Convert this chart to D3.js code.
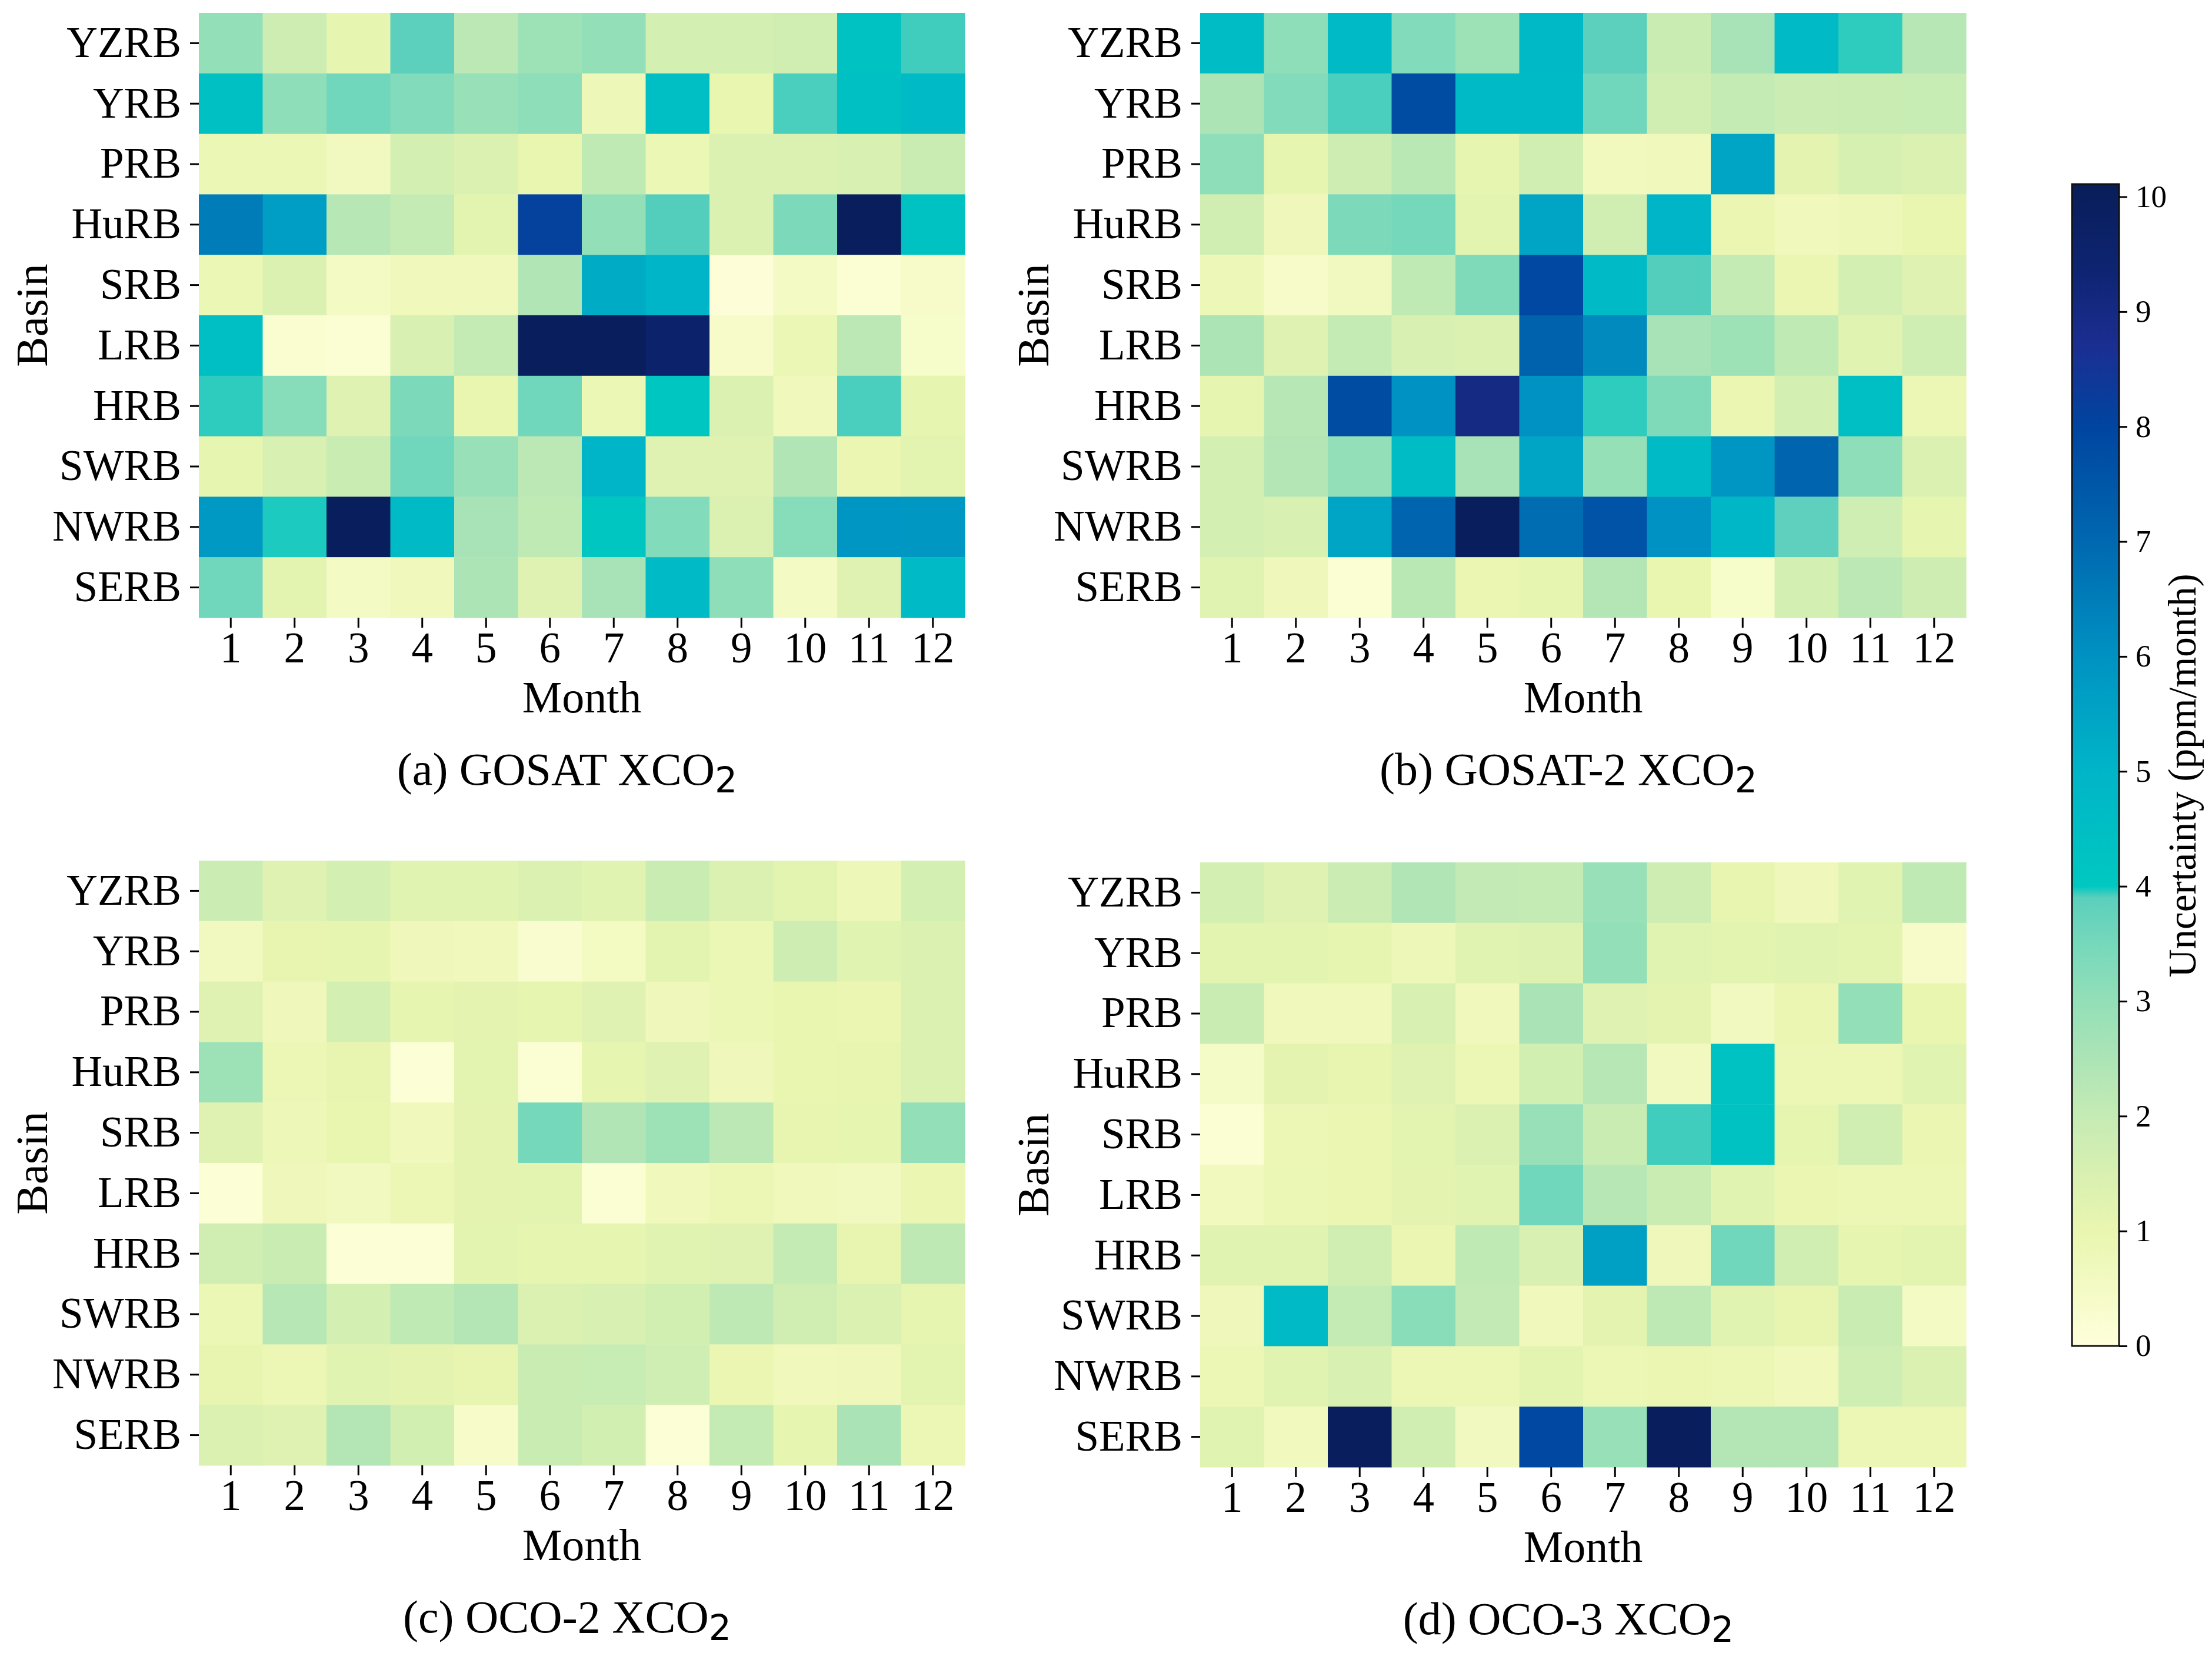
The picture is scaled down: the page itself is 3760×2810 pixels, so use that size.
<!DOCTYPE html>
<html>
<head>
<meta charset="utf-8">
<script src="https://cdn.jsdelivr.net/npm/d3@7"></script>
<style>
  body { margin: 0; background: #fff; }
  svg text { font-family: "Liberation Serif", "Times New Roman", serif; fill: #000; }
</style>
</head>
<body>
<svg id="chart" width="3760" height="2810"></svg>
<script>
// rows top to bottom, columns = months 1..12
const basins = ["YZRB", "YRB", "PRB", "HuRB", "SRB", "LRB", "HRB", "SWRB", "NWRB", "SERB"]
const months = [1, 2, 3, 4, 5, 6, 7, 8, 9, 10, 11, 12]
const cbTicks = [0, 1, 2, 3, 4, 5, 6, 7, 8, 9, 10]

const gosat = [
  [3.0, 1.8, 1.1, 3.9, 2.2, 2.8, 3.0, 1.6, 1.6, 1.7, 4.3, 3.93],
  [4.4, 3.1, 3.6, 3.3, 2.9, 3.1, 0.8, 4.5, 1.0, 3.92, 4.4, 4.7],
  [0.9, 0.9, 0.6, 1.6, 1.4, 1.0, 2.1, 0.9, 1.4, 1.4, 1.5, 1.9],
  [6.5, 5.7, 2.3, 2.0, 1.2, 8.1, 3.0, 3.91, 1.4, 3.4, 10.0, 4.3],
  [0.9, 1.4, 0.5, 0.7, 0.7, 2.4, 5.3, 5.0, 0.1, 0.5, 0.2, 0.4],
  [4.5, 0.25, 0.2, 1.5, 2.0, 10.0, 10.0, 9.6, 0.4, 0.9, 2.2, 0.35],
  [3.95, 3.2, 1.3, 3.4, 1.0, 3.6, 0.9, 4.1, 1.4, 0.7, 3.92, 1.1],
  [1.1, 1.5, 1.9, 3.6, 2.9, 2.2, 5.0, 1.3, 1.3, 2.4, 0.95, 1.2],
  [5.8, 3.97, 10.0, 4.7, 2.6, 2.1, 4.1, 3.3, 1.4, 3.2, 5.9, 5.85],
  [3.6, 1.2, 0.5, 0.7, 2.5, 1.3, 2.6, 4.7, 3.1, 0.5, 1.3, 4.7]
]
const gosat2 = [
  [4.6, 3.1, 4.7, 3.3, 2.8, 4.8, 3.9, 1.9, 2.6, 4.7, 3.95, 2.3],
  [2.5, 3.3, 3.92, 7.8, 4.7, 4.7, 3.6, 1.7, 2.0, 1.85, 1.9, 1.95],
  [3.1, 1.1, 1.8, 2.25, 1.1, 1.7, 0.65, 0.7, 5.5, 1.15, 1.55, 1.4],
  [1.7, 0.75, 3.4, 3.5, 1.2, 5.5, 1.7, 5.0, 0.95, 0.7, 0.8, 1.0],
  [0.8, 0.4, 0.6, 2.1, 3.35, 7.9, 4.7, 3.91, 2.0, 0.95, 1.6, 1.3],
  [2.5, 1.3, 2.0, 1.5, 1.45, 7.2, 6.2, 2.6, 2.8, 2.1, 1.25, 1.75],
  [1.1, 2.3, 7.8, 6.0, 9.0, 6.0, 3.95, 3.35, 0.95, 1.6, 4.5, 0.85],
  [1.6, 2.35, 3.0, 4.6, 2.6, 5.5, 2.95, 4.7, 5.9, 7.1, 3.1, 1.4],
  [1.6, 1.5, 5.5, 7.1, 10.0, 6.9, 7.6, 6.0, 4.9, 3.85, 1.75, 1.1],
  [1.25, 0.75, 0.2, 2.25, 0.95, 1.1, 2.35, 1.0, 0.35, 1.6, 2.2, 1.8]
]
const oco2 = [
  [1.85, 1.3, 1.6, 1.25, 1.25, 1.45, 1.25, 1.9, 1.4, 1.2, 0.8, 1.6],
  [0.6, 1.05, 1.1, 0.75, 0.7, 0.3, 0.55, 1.2, 0.9, 1.8, 1.25, 1.4],
  [1.3, 0.75, 1.6, 1.1, 1.15, 1.1, 1.3, 0.75, 0.9, 1.0, 0.95, 1.4],
  [2.8, 0.85, 1.05, 0.15, 1.2, 0.2, 1.1, 1.3, 0.75, 1.0, 1.05, 1.45],
  [1.3, 0.8, 1.0, 0.7, 1.15, 3.5, 2.4, 2.8, 2.2, 1.05, 1.1, 3.0],
  [0.15, 0.75, 0.6, 0.85, 1.15, 1.2, 0.2, 0.7, 0.85, 0.7, 0.6, 0.95],
  [1.7, 1.9, 0.15, 0.15, 1.2, 1.1, 1.1, 1.25, 1.3, 2.0, 1.05, 2.15],
  [0.9, 2.3, 1.6, 2.1, 2.35, 1.45, 1.5, 1.65, 2.15, 1.7, 1.4, 1.1],
  [1.05, 0.85, 1.25, 1.15, 1.05, 1.9, 1.95, 1.75, 0.95, 0.7, 0.75, 1.2],
  [1.45, 1.3, 2.35, 1.65, 0.4, 1.9, 1.65, 0.15, 2.0, 1.1, 2.55, 0.85]
]
const oco3 = [
  [1.6, 1.3, 1.85, 2.4, 2.05, 2.0, 2.9, 1.8, 1.05, 0.75, 1.25, 2.1],
  [1.2, 1.2, 1.1, 0.8, 1.25, 1.35, 3.0, 1.25, 1.2, 1.25, 1.2, 0.4],
  [1.9, 0.7, 0.7, 1.5, 0.7, 2.55, 1.3, 1.15, 0.6, 0.95, 3.0, 1.0],
  [0.45, 1.15, 1.05, 1.3, 0.85, 1.65, 2.3, 0.6, 4.3, 0.85, 0.85, 1.25],
  [0.2, 0.85, 0.95, 1.2, 1.4, 2.9, 1.9, 3.93, 4.3, 1.1, 1.7, 0.95],
  [0.65, 0.9, 0.95, 1.15, 1.25, 3.6, 2.3, 1.9, 1.25, 0.95, 0.85, 0.85],
  [1.25, 1.25, 1.7, 0.95, 2.1, 1.5, 5.6, 0.75, 3.6, 1.7, 1.1, 1.2],
  [0.75, 4.7, 2.0, 3.15, 2.05, 0.7, 1.15, 2.15, 1.25, 1.05, 1.9, 0.5],
  [0.85, 1.25, 1.5, 0.85, 0.85, 1.2, 0.85, 0.95, 0.85, 0.7, 1.75, 1.4],
  [1.25, 0.65, 10.0, 1.7, 0.6, 7.9, 2.9, 10.0, 2.35, 2.35, 0.85, 0.85]
]

const panels = [
  {label: "(a) GOSAT XCO", data: gosat, x: 338, y: 22},
  {label: "(b) GOSAT-2 XCO", data: gosat2, x: 2040, y: 22},
  {label: "(c) OCO-2 XCO", data: oco2, x: 338, y: 1463},
  {label: "(d) OCO-3 XCO", data: oco3, x: 2040, y: 1466}
]

const vmax = 10.11
const W = 1302, H = 1028

// custom YlGnBu-like map with the jump at 4 seen in the colorbar
const color = d3.scaleLinear()
  .domain([0, 0.5, 1, 1.5, 2, 2.5, 3, 3.5, 3.9, 4.0, 5, 6, 7, 8, 8.7, 9.3, vmax])
  .range(["#ffffdc", "#f4fac4", "#e9f6b0", "#d8f0b1", "#c5ebb4", "#ace4b6", "#93dfb8",
          "#76d8bb", "#5ccfbd", "#00c8c0", "#00b5c8", "#0092c2", "#0068b0", "#0045a0",
          "#1b2e92", "#0f2574", "#081d58"])
  .clamp(true)

const svg = d3.select("#chart")

const xScale = d3.scaleBand().domain(months).range([0, W])
const yScale = d3.scaleBand().domain(basins).range([0, H])

panels.forEach(function(p){
  const g = svg.append("g").attr("transform", `translate(${p.x},${p.y})`)

  const cells = []
  p.data.forEach(function(row, r){
    row.forEach(function(v, c){
      cells.push({basin: basins[r], month: months[c], value: v})
    })
  })

  g.selectAll("rect")
    .data(cells)
    .join("rect")
    .attr("x", d => xScale(d.month))
    .attr("y", d => yScale(d.basin))
    .attr("width", xScale.bandwidth() + 0.5)
    .attr("height", yScale.bandwidth() + 0.5)
    .attr("fill", d => color(d.value))

  const ya = g.append("g")
    .call(d3.axisLeft(yScale).tickSize(15).tickPadding(15))
  ya.select(".domain").remove()
  ya.selectAll(".tick line").attr("stroke", "#000").attr("stroke-width", 3)
  ya.selectAll(".tick text").attr("font-size", 73).attr("font-family", "Liberation Serif")

  const xa = g.append("g")
    .attr("transform", `translate(0,${H})`)
    .call(d3.axisBottom(xScale).tickSize(17).tickPadding(7))
  xa.select(".domain").remove()
  xa.selectAll(".tick line").attr("stroke", "#000").attr("stroke-width", 3)
  xa.selectAll(".tick text").attr("font-size", 73).attr("font-family", "Liberation Serif")

  g.append("text")
    .attr("x", W / 2)
    .attr("y", H + 161)
    .attr("text-anchor", "middle")
    .attr("font-size", 76)
    .text("Month")

  g.append("text")
    .attr("transform", `translate(-258,${H / 2}) rotate(-90)`)
    .attr("text-anchor", "middle")
    .attr("font-size", 77)
    .text("Basin")

  const t = g.append("text")
    .attr("x", W / 2 - 25)
    .attr("y", H + 284)
    .attr("text-anchor", "middle")
    .attr("font-size", 78)
  t.append("tspan").text(p.label)
  t.append("tspan")
    .attr("dy", 13)
    .attr("font-family", "DejaVu Sans")
    .attr("font-size", 60)
    .text("2")
})

// colorbar
const cbX = 3522, cbTop = 313, cbBottom = 2288, cbW = 80

const cbScale = d3.scaleLinear()
  .domain([0, vmax])
  .range([cbBottom, cbTop])

const defs = svg.append("defs")
const grad = defs.append("linearGradient")
  .attr("id", "cbgrad")
  .attr("x1", 0).attr("y1", 1).attr("x2", 0).attr("y2", 0)
grad.selectAll("stop")
  .data(color.domain())
  .join("stop")
  .attr("offset", d => d / vmax)
  .attr("stop-color", d => color(d))

svg.append("rect")
  .attr("x", cbX)
  .attr("y", cbTop)
  .attr("width", cbW)
  .attr("height", cbBottom - cbTop)
  .attr("fill", "url(#cbgrad)")
  .attr("stroke", "#111")
  .attr("stroke-width", 3)

const cba = svg.append("g")
  .attr("transform", `translate(${cbX + cbW},0)`)
  .call(d3.axisRight(cbScale).tickValues(cbTicks).tickSize(14).tickPadding(14))
cba.select(".domain").remove()
cba.selectAll(".tick line").attr("stroke", "#000").attr("stroke-width", 3)
cba.selectAll(".tick text").attr("font-size", 53).attr("font-family", "Liberation Serif")

svg.append("text")
  .attr("transform", `translate(3732,${(cbTop + cbBottom) / 2 + 18}) rotate(-90)`)
  .attr("text-anchor", "middle")
  .attr("font-size", 67)
  .text("Uncertainty (ppm/month)")
</script>
</body>
</html>
